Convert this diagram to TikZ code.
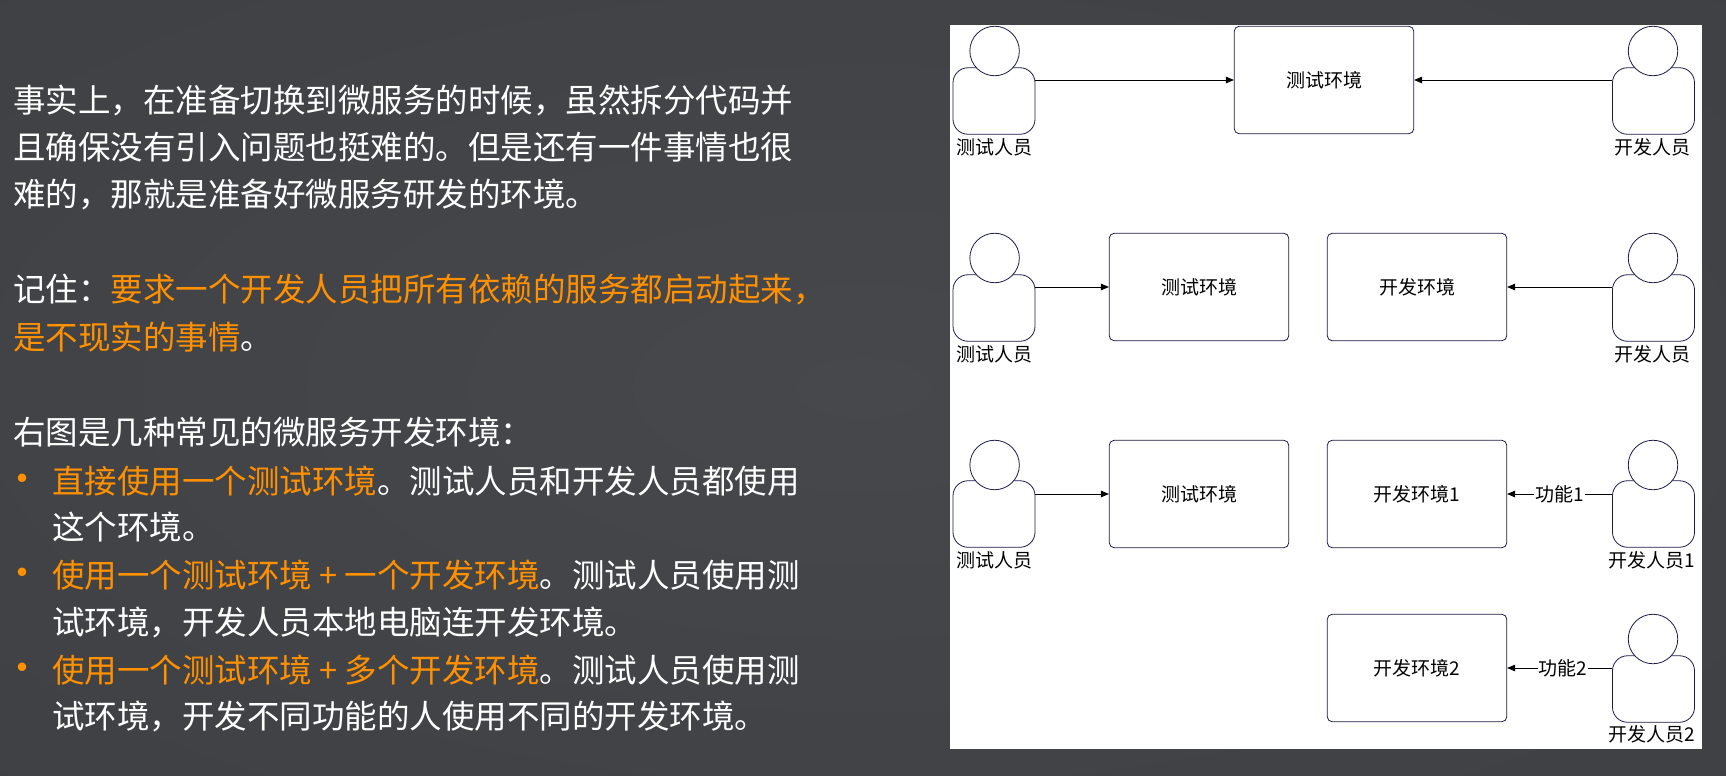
\documentclass[tikz,border=0pt]{standalone}
\usepackage{fontspec}
\setmainfont{Noto Sans CJK SC}
\usepackage{tikz}
\usetikzlibrary{arrows}

\definecolor{hiorange}{HTML}{FF9100}
\definecolor{boxline}{HTML}{1C1C48}
\pgfdeclareradialshading{bgglow}{\pgfpointorigin}{rgb(0bp)=(0.278,0.282,0.298); rgb(70bp)=(0.22,0.224,0.231)}
\newcommand{\zhcomma}{\char"FF0C\relax}
\newcommand{\zhcolon}{\char"FF1A\relax}

\tikzset{
    txtline/.style={anchor=west,inner sep=0pt,text=white,font=\fontsize{32.5}{36}\selectfont},
    bulletdot/.style={anchor=west,inner sep=0pt,text=hiorange,font=\fontsize{40}{44}\selectfont},
    envbox/.style={draw=boxline,fill=white,line width=0.8pt,rounded corners=5pt,
        minimum width=179.5pt,minimum height=107.5pt,inner sep=0pt,font=\fontsize{19}{23}\selectfont},
    torso/.style={draw=boxline,fill=white,line width=0.8pt,rounded corners=15pt,
        minimum width=82pt,minimum height=66.5pt,inner sep=0pt},
    head/.style={draw=boxline,fill=white,line width=0.8pt,circle,minimum size=49.5pt,inner sep=0pt},
    who/.style={inner sep=0pt,font=\fontsize{19}{23}\selectfont},
    featlbl/.style={fill=white,inner sep=1pt,font=\fontsize{19}{23}\selectfont}
}

\begin{document}
\begin{tikzpicture}[x=1pt,y=-1pt]
\useasboundingbox (0,0) rectangle (1726,776);
\shade[shading=bgglow] (0,0) rectangle (1726,776);

% left column
\node[txtline] (paraa) at (13,100) {事实上\zhcomma 在准备切换到微服务的时候\zhcomma 虽然拆分代码并};
\node[txtline] (parab) at (13,147) {且确保没有引入问题也挺难的。但是还有一件事情也很};
\node[txtline] (parac) at (13,194) {难的\zhcomma 那就是准备好微服务研发的环境。};

\node[txtline] (notea) at (13,290) {记住\zhcolon\textcolor{hiorange}{要求一个开发人员把所有依赖的服务都启动起来\zhcomma}};
\node[txtline] (noteb) at (13,337) {\textcolor{hiorange}{是不现实的事情}。};

\node[txtline] (intro) at (13,432) {右图是几种常见的微服务开发环境\zhcolon};
\node[bulletdot] (dota) at (2,484) {•};
\node[txtline] (itema) at (52,481) {\textcolor{hiorange}{直接使用一个测试环境}。测试人员和开发人员都使用};
\node[txtline] (itemb) at (52,527) {这个环境。};
\node[bulletdot] (dotb) at (2,578) {•};
\node[txtline] (itemc) at (52,575) {\textcolor{hiorange}{使用一个测试环境 + 一个开发环境}。测试人员使用测};
\node[txtline] (itemd) at (52,622) {试环境\zhcomma 开发人员本地电脑连开发环境。};
\node[bulletdot] (dotc) at (2,673) {•};
\node[txtline] (iteme) at (52,670) {\textcolor{hiorange}{使用一个测试环境 + 多个开发环境}。测试人员使用测};
\node[txtline] (itemf) at (52,716) {试环境\zhcomma 开发不同功能的人使用不同的开发环境。};

% white panel
\fill[white] (950,25) rectangle (1702,749);

% first row
\node[envbox] (envtop) at (1324,80) {测试环境};
\node[torso] (testbodya) at (994,101) {};
\node[head] (testheada) at (994.6,51) {};
\draw[black] (994,147) node[who] (testnamea) {测试人员};
\node[torso] (devbodya) at (1653.5,101) {};
\node[head] (devheada) at (1653,51) {};
\draw[black] (1652,147) node[who] (devnamea) {开发人员};

% second row
\node[envbox] (envtestb) at (1199,287) {测试环境};
\node[envbox] (envdevb) at (1417,287) {开发环境};
\node[torso] (testbodyb) at (994,308) {};
\node[head] (testheadb) at (994.6,258) {};
\draw[black] (994,354) node[who] (testnameb) {测试人员};
\node[torso] (devbodyb) at (1653.5,308) {};
\node[head] (devheadb) at (1653,258) {};
\draw[black] (1652,354) node[who] (devnameb) {开发人员};

% third row
\node[envbox] (envtestc) at (1199,494) {测试环境};
\node[envbox] (envdevc) at (1417,494) {开发环境1};
\node[torso] (testbodyc) at (994,514) {};
\node[head] (testheadc) at (994.6,465) {};
\draw[black] (994,560) node[who] (testnamec) {测试人员};
\node[torso] (devbodyc) at (1653.5,514) {};
\node[head] (devheadc) at (1653,465) {};
\draw[black] (1652,560) node[who] (devnamec) {开发人员1};

% fourth row
\node[envbox] (envdevd) at (1417,668) {开发环境2};
\node[torso] (devbodyd) at (1653.5,689) {};
\node[head] (devheadd) at (1653,639) {};
\draw[black] (1652,734) node[who] (devnamed) {开发人员2};

\begin{scope}[>=triangle 45,line width=0.8pt]
    \draw[black,->] (testbodya.east |- envtop.west) -- (envtop.west);
    \draw[black,->] (devbodya.west |- envtop.east) -- (envtop.east);
    \draw[black,->] (testbodyb.east |- envtestb.west) -- (envtestb.west);
    \draw[black,->] (devbodyb.west |- envdevb.east) -- (envdevb.east);
    \draw[black,->] (testbodyc.east |- envtestc.west) -- (envtestc.west);
    \draw[black,->] (devbodyc.west |- envdevc.east) -- node[featlbl,pos=0.50] (feata) {功能1} (envdevc.east);
    \draw[black,->] (devbodyd.west |- envdevd.east) -- node[featlbl,pos=0.47] (featb) {功能2} (envdevd.east);
\end{scope}
\end{tikzpicture}
\end{document}
